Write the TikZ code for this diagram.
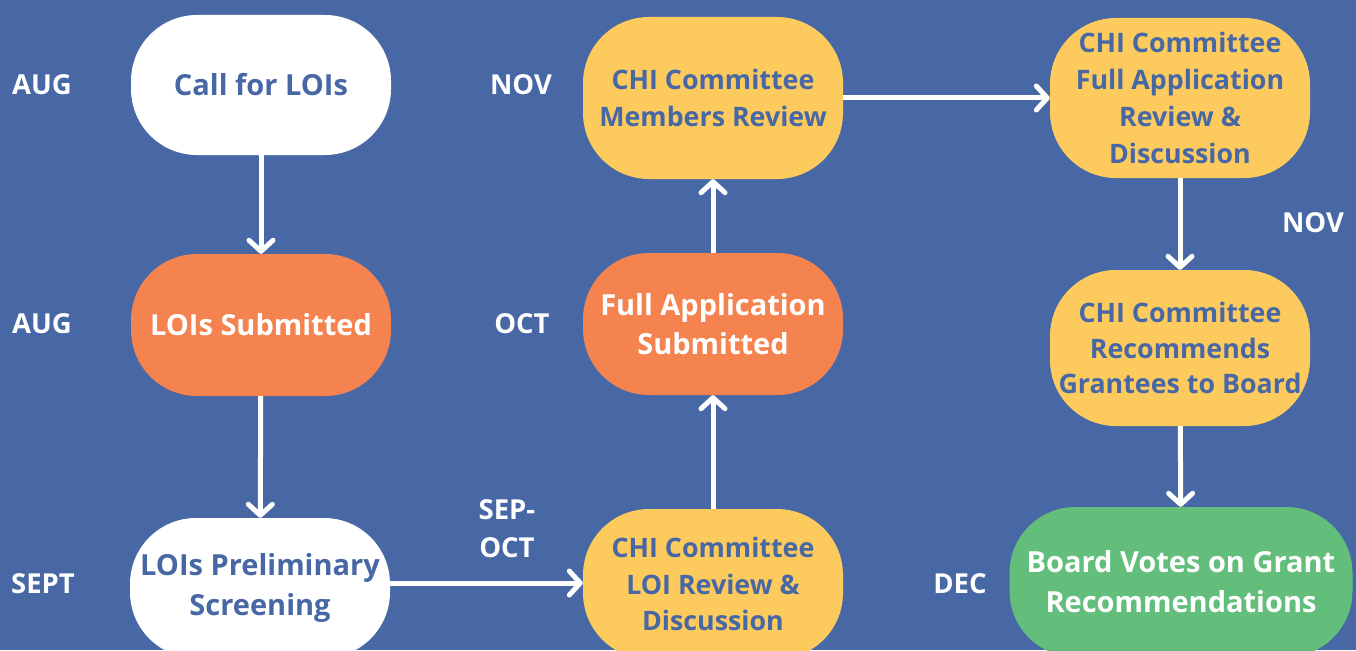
\documentclass[tikz,border=0pt]{standalone}
\usepackage{fontspec}
\setmainfont{Open Sans}
\usetikzlibrary{arrows.meta}
\definecolor{bgblue}{RGB}{71,103,165}
\definecolor{boxorange}{RGB}{244,131,79}
\definecolor{boxyellow}{RGB}{252,202,93}
\definecolor{boxgreen}{RGB}{99,190,123}
\tikzset{
  stage/.style={rectangle, rounded corners=66pt, inner sep=0pt, align=center,
    minimum width=260pt, minimum height=140pt},
  whitebox/.style={stage, fill=white, text=bgblue, font=\bfseries\fontsize{29}{40}\selectfont},
  orangebox/.style={stage, fill=boxorange, text=white, font=\bfseries\fontsize{29}{39}\selectfont},
  yellowbox/.style={stage, fill=boxyellow, text=bgblue, font=\bfseries\fontsize{26.8}{37}\selectfont},
  greenbox/.style={stage, fill=boxgreen, text=white, font=\bfseries\fontsize{29}{40}\selectfont},
  month/.style={text=white, align=center, font=\bfseries\fontsize{27.5}{38}\selectfont},
  flow/.style={draw=white, line width=5pt,
    -{Straight Barb[length=11pt, width=24pt, line cap=round, line join=round]}}
}
\begin{document}
\begin{tikzpicture}[x=1pt, y=-1pt]
\fill[bgblue] (0,0) rectangle (1356,650);
\useasboundingbox (0,0) rectangle (1356,650);

% column one
\node[whitebox] (call) at (261,85) {Call for LOIs};
\node[orangebox, minimum height=142pt] (submitted) at (261,325) {LOIs Submitted};
\node[whitebox] (screen) at (260,588) {LOIs Preliminary\\Screening};

% column two
\node[yellowbox, minimum height=162pt] (members) at (713,98) {CHI Committee\\Members Review};
\node[orangebox, minimum height=142pt] (fullapp) at (713,324) {Full Application\\Submitted};
\node[yellowbox, minimum height=150pt, font=\bfseries\fontsize{26.8}{36.5}\selectfont] (loireview) at (713,584) {CHI Committee\\LOI Review \&\\Discussion};

% column three
\node[yellowbox, minimum height=160pt] (fullreview) at (1180,98) {CHI Committee\\Full Application\\Review \&\\Discussion};
\node[yellowbox, minimum height=156pt, font=\bfseries\fontsize{26.8}{35.5}\selectfont] (recommend) at (1180,348) {CHI Committee\\Recommends\\Grantees to Board};
\node[greenbox, minimum width=343pt, minimum height=150pt] (board) at (1181,582) {Board Votes on Grant\\Recommendations};

% months
\node[month] (m1) at (42,85) {AUG};
\node[month] (m2) at (42,324) {AUG};
\node[month] (m3) at (43,584) {SEPT};
\node[month] (m4) at (521,85) {NOV};
\node[month] (m5) at (522,324) {OCT};
\node[month] (m6) at (507,529) {SEP-\\OCT};
\node[month] (m7) at (1313,223) {NOV};
\node[month] (m8) at (960,584) {DEC};

% connectors
\draw[flow] (call) -- (submitted);
\draw[flow] (submitted) -- (screen);
\draw[flow] (screen.east |- 0,583) -- (loireview.west |- 0,583);
\draw[flow] (loireview) -- (fullapp);
\draw[flow] (fullapp) -- (members);
\draw[flow] (members) -- (fullreview);
\draw[flow] (fullreview) -- (recommend);
\draw[flow] (recommend) -- (board);
\end{tikzpicture}
\end{document}
